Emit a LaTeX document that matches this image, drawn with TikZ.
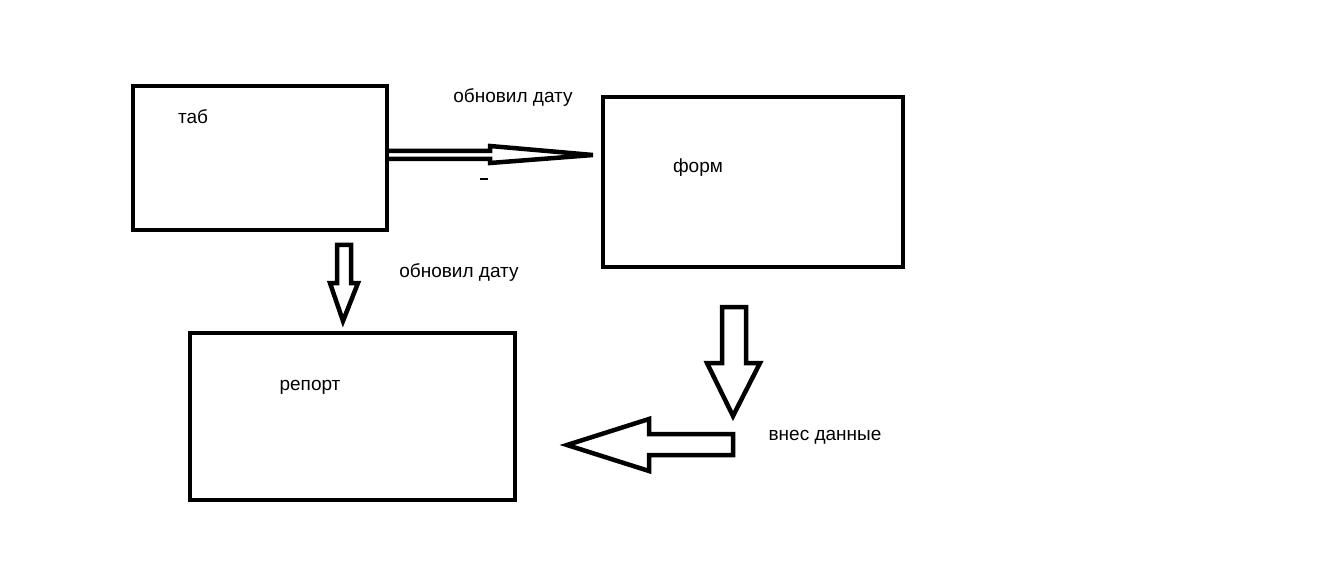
\documentclass[tikz,border=0pt]{standalone}
\usepackage{fontspec}
\setmainfont{Liberation Sans}
\usetikzlibrary{positioning}
\tikzset{%
    box/.style={draw, line width=4.5pt, inner sep=0pt, outer sep=0pt},
    blockarrow/.style={draw, line width=4.5pt, line join=miter},
    lbl/.style={font=\fontsize{19}{23}\selectfont, inner sep=0pt}
}

\begin{document}
\begin{tikzpicture}[x=1pt,y=-1pt]
        \useasboundingbox[fill=white] (0,0) rectangle (1343,569);

        % boxes
        \node[box, minimum width=254pt, minimum height=144pt] (tab) at (260,158) {};
        \node[box, minimum width=300pt, minimum height=170pt] (form) at (753,182) {};
        \node[box, minimum width=325pt, minimum height=167pt] (report) at (352.5,416.5) {};

        \node[lbl] (tablbl) at (193,117) {таб};
        \node[lbl] (formlbl) at (698,168) {форм};
        \node[lbl] (reportlbl) at (310,387) {репорт};

        % arrows
        \draw[blockarrow] (387,151) -- (490,151) -- (490,146) -- (593,155) --
            (490,163) -- (490,159) -- (387,159);
        \draw[line width=2pt] (480,179) -- (488,179);
        \draw[blockarrow] (337,245) -- (351,245) -- (351,283) -- (358,283) --
            (343,321) -- (330,283) -- (337,283) -- cycle;
        \draw[blockarrow] (722,307) -- (746,307) -- (746,363) -- (760,363) --
            (733,416) -- (707,363) -- (722,363) -- cycle;
        \draw[blockarrow] (733,434) -- (733,455) -- (649,455) -- (649,471) --
            (567,445) -- (649,419) -- (649,434) -- cycle;

        % labels
        \node[lbl] (upd1) at (513,98) {обновил дату};
        \node[lbl] (upd2) at (459,273) {обновил дату};
        \node[lbl] (entered) at (825,437) {внес данные};
    \end{tikzpicture}
\end{document}
